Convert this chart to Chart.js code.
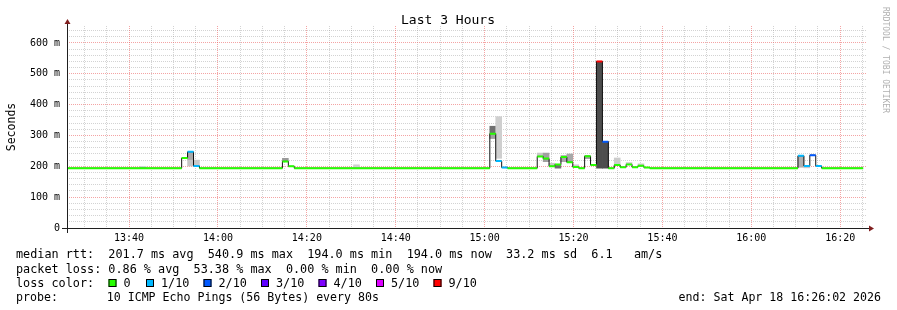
<!DOCTYPE html>
<html><head><meta charset="utf-8">
<script src="https://cdn.jsdelivr.net/npm/chart.js@4/dist/chart.umd.min.js"></script>
<style>html,body{margin:0;padding:0;background:#fff}#wrap{width:897px;height:310px;position:relative}</style>
</head><body><div id="wrap"><canvas id="c" width="897" height="310"></canvas></div>
<script>
// ---------- data ----------
const chartTitle = "Last 3 Hours";
const yAxisTitle = "Seconds";
const startTime = "13:26:02";
const endTime = "16:26:02";
const dataEnd = "16:25:10";
const stepSeconds = 80;
const yMax = 655;
const yTickValues = [0, 100, 200, 300, 400, 500, 600];
const xTickLabels = ["13:40", "14:00", "14:20", "14:40", "15:00", "15:20", "15:40", "16:00", "16:20"];

const lossLabels = ["0", "1/10", "2/10", "3/10", "4/10", "5/10", "9/10"];
const lossColors = ["#26ff00", "#00b8ff", "#0059ff", "#5e00ff", "#7e00ff", "#dd00ff", "#ff0000"];

// median rtt (ms) as runs: value holds from runStart until next run
const runStart = ["13:26:02", "13:51:50", "13:53:10", "13:54:30", "13:55:50",
  "14:14:30", "14:15:50", "14:17:10",
  "15:01:10", "15:02:30", "15:03:50", "15:05:10",
  "15:11:50", "15:13:10", "15:14:30", "15:15:50", "15:17:10", "15:18:30", "15:19:50", "15:21:10",
  "15:22:30", "15:23:50", "15:25:10", "15:26:30", "15:27:50", "15:29:10", "15:30:30", "15:31:50",
  "15:33:10", "15:34:30", "15:35:50", "15:37:10",
  "16:10:30", "16:11:50", "16:13:10", "16:14:30", "16:15:50"];
const runMedian = [194, 227, 247, 201, 194,
  216, 200, 194,
  306, 217, 196, 194,
  232, 225, 200, 206, 230, 213, 198, 194,
  233, 204, 540, 280, 194, 204, 197, 206,
  197, 202, 196, 194,
  234, 201, 236, 201, 194];
const runLoss = ["0", "0", "1/10", "1/10", "0",
  "0", "0", "0",
  "0", "1/10", "1/10", "0",
  "0", "0", "0", "0", "0", "0", "0", "0",
  "0", "0", "9/10", "2/10", "0", "0", "0", "0",
  "0", "0", "0", "0",
  "1/10", "1/10", "2/10", "1/10", "0"];

// smoke (spread of the pings) per 80 s step
const smokeStep = ["13:42:30", "13:53:10", "13:53:10", "13:54:30", "14:14:30", "14:30:30",
  "15:01:10", "15:01:10", "15:02:30", "15:11:50", "15:13:10", "15:14:30", "15:15:50", "15:17:10",
  "15:18:30", "15:19:50", "15:22:30", "15:25:10", "15:26:30", "15:29:10", "15:31:50", "15:34:30",
  "16:10:30", "16:11:50"];
const smokeLow = [195, 201, 222, 201, 216, 198,
  290, 308, 226, 232, 215, 200, 194, 215,
  213, 198, 225, 194, 194, 204, 206, 202,
  197, 195];
const smokeHigh = [200, 222, 245, 220, 226, 205,
  306, 330, 361, 243, 243, 210, 206, 235,
  240, 205, 233, 540, 280, 227, 212, 208,
  234, 200];
const smokeShade = ["#d2d2d2", "#c4c4c4", "#a8a8a8", "#c8c8c8", "#9a9a9a", "#d0d0d0",
  "#a0a0a0", "#707070", "#cfcfcf", "#c8c8c8", "#a0a0a0", "#c8c8c8", "#6e6e6e", "#a8a8a8",
  "#a8a8a8", "#cccccc", "#a0a0a0", "#4d4d4d", "#4d4d4d", "#cccccc", "#c8c8c8", "#c8c8c8",
  "#b0b0b0", "#c8c8c8"];

const rttLine = "median rtt:  201.7 ms avg  540.9 ms max  194.0 ms min  194.0 ms now  33.2 ms sd  6.1   am/s";
const lossLine = "packet loss: 0.86 % avg  53.38 % max  0.00 % min  0.00 % now";
const lossColorLabel = "loss color:";
const probeLine = "probe:       10 ICMP Echo Pings (56 Bytes) every 80s";
const endLine = "end: Sat Apr 18 16:26:02 2026";
const watermark = "RRDTOOL / TOBI OETIKER";

// ---------- helpers ----------
function toSec(s) { const p = s.split(':').map(Number); return p[0] * 3600 + p[1] * 60 + (p[2] || 0); }
function clock(v) { const h = Math.floor(v / 3600), m = Math.floor((v % 3600) / 60); return String(h).padStart(2, '0') + ':' + String(m).padStart(2, '0'); }
const tStart = toSec(startTime), tEnd = toSec(endTime), tDataEnd = toSec(dataEnd);
const runSec = runStart.map(toSec);
const MONO = "'DejaVu Sans Mono', monospace";

const medianPts = runSec.map((t, i) => ({ x: t, y: runMedian[i] }));
medianPts.push({ x: tDataEnd, y: runMedian[runMedian.length - 1] });

const lossSets = lossLabels.map((lab, ci) => {
  const pts = [];
  runSec.forEach((t, i) => {
    if (runLoss[i] === lab) {
      const e = i + 1 < runSec.length ? runSec[i + 1] : tDataEnd;
      pts.push({ x: t, y: runMedian[i] }, { x: e, y: runMedian[i] }, { x: e, y: null });
    }
  });
  return { type: 'line', data: pts, borderColor: lossColors[ci], borderWidth: 2, pointRadius: 0,
    spanGaps: false, order: 0, borderCapStyle: 'butt' };
});

const smokeSet = {
  type: 'bar',
  data: smokeStep.map((s, i) => ({ x: toSec(s) + stepSeconds / 2, y: [smokeLow[i], smokeHigh[i]] })),
  backgroundColor: smokeShade, borderWidth: 0, barPercentage: 1, categoryPercentage: 1, grouped: false, order: 2
};
const medianSet = { type: 'line', data: medianPts, borderColor: '#111', borderWidth: 1, pointRadius: 0, stepped: true, order: 1 };

const deco = {
  id: 'deco',
  afterDatasetsDraw(chart) {
    const ctx = chart.ctx, a = chart.chartArea;
    ctx.save();
    // axes
    ctx.strokeStyle = '#1f1f1f'; ctx.lineWidth = 1;
    ctx.beginPath();
    ctx.moveTo(a.left - 5, a.bottom + 0.5); ctx.lineTo(a.right + 3, a.bottom + 0.5);
    ctx.moveTo(a.left + 0.5, a.bottom + 5); ctx.lineTo(a.left + 0.5, a.top - 3);
    ctx.stroke();
    ctx.fillStyle = '#801f1f';
    ctx.beginPath(); ctx.moveTo(a.left - 2.5, a.top - 2); ctx.lineTo(a.left + 3.5, a.top - 2); ctx.lineTo(a.left + 0.5, a.top - 7); ctx.closePath(); ctx.fill();
    ctx.beginPath(); ctx.moveTo(a.right + 2, a.bottom - 2.5); ctx.lineTo(a.right + 2, a.bottom + 3.5); ctx.lineTo(a.right + 7, a.bottom + 0.5); ctx.closePath(); ctx.fill();
    // title
    ctx.fillStyle = '#000'; ctx.textAlign = 'center'; ctx.textBaseline = 'alphabetic';
    ctx.font = "13px " + MONO; ctx.fillText(chartTitle, 448, 24);
    // y title
    ctx.save(); ctx.translate(15, 127); ctx.rotate(-Math.PI / 2);
    ctx.font = "11.5px " + MONO; ctx.fillText(yAxisTitle, 0, 0); ctx.restore();
    // watermark
    ctx.save(); ctx.translate(883, 60); ctx.rotate(Math.PI / 2); ctx.fillStyle = '#b0b0b0';
    ctx.font = "8px " + MONO; ctx.textAlign = 'center'; ctx.fillText(watermark, 0, 0); ctx.restore();
    // legend
    ctx.textAlign = 'left'; ctx.font = "11.8px " + MONO; ctx.fillStyle = '#000';
    ctx.fillText(rttLine, 16, 258);
    ctx.fillText(lossLine, 16, 272.5);
    ctx.fillText(lossColorLabel, 16, 287);
    ctx.font = "11.6px " + MONO;
    ctx.fillText(probeLine, 16, 301);
    ctx.textAlign = 'right'; ctx.fillText(endLine, 881, 301);
    ctx.font = "11.8px " + MONO;
    ctx.textAlign = 'left';
    const boxX = [108.5, 146, 203.5, 261, 318.5, 376, 433.5];
    lossLabels.forEach((lab, i) => {
      const x = boxX[i];
      ctx.fillStyle = lossColors[i]; ctx.fillRect(x, 279, 8, 8);
      ctx.strokeStyle = '#000'; ctx.strokeRect(x + 0.5, 279.5, 7, 7);
      ctx.fillStyle = '#000'; ctx.fillText(lab, x + 15, 287);
    });
    ctx.restore();
  }
};

function xMajorTicks() { return xTickLabels.map(l => ({ value: toSec(l + ':00') })); }
function xMinorTicks() { const t = []; for (let v = Math.ceil(tStart / 300) * 300; v <= tEnd; v += 300) if (v % 1200) t.push({ value: v }); return t; }
function yMinorTicks() { const t = []; for (let v = 20; v <= yMax; v += 20) if (v % 100) t.push({ value: v }); return t; }

const MAJOR = 'rgba(235,90,90,0.55)';
const MINOR = 'rgba(150,150,150,0.42)';

new Chart(document.getElementById('c'), {
  data: { datasets: [...lossSets, medianSet, smokeSet] },
  options: {
    responsive: false, animation: false, devicePixelRatio: 1,
    layout: { padding: { top: 26, right: 30, left: 0, bottom: 62 } },
    plugins: { legend: { display: false }, tooltip: { enabled: false }, title: { display: false } },
    scales: {
      xMinor: {
        type: 'linear', min: tStart, max: tEnd, position: 'bottom', offset: false,
        afterBuildTicks: s => { s.ticks = xMinorTicks(); },
        afterFit: s => { s.height = 0; },
        ticks: { display: false },
        grid: { color: MINOR, drawTicks: false, offset: false },
        border: { display: false, dash: [1, 1] }
      },
      yMinor: {
        type: 'linear', min: 0, max: yMax, position: 'left',
        afterBuildTicks: s => { s.ticks = yMinorTicks(); },
        afterFit: s => { s.width = 0; },
        ticks: { display: false },
        grid: { color: MINOR, drawTicks: false },
        border: { display: false, dash: [1, 1] }
      },
      x: {
        type: 'linear', min: tStart, max: tEnd, position: 'bottom', offset: false,
        afterBuildTicks: s => { s.ticks = xMajorTicks(); },
        afterFit: s => { s.height = 20; },
        ticks: { callback: v => clock(v), font: { family: MONO, size: 10 }, color: '#000', padding: 4, maxRotation: 0, autoSkip: false },
        grid: { color: MAJOR, drawTicks: false, offset: false },
        border: { display: false, dash: [1, 1] }
      },
      y: {
        type: 'linear', min: 0, max: yMax, position: 'left',
        afterBuildTicks: s => { s.ticks = yTickValues.map(v => ({ value: v })); },
        afterFit: s => { s.width = 67; },
        ticks: { callback: v => v === 0 ? '0' : v + ' m', font: { family: MONO, size: 10 }, color: '#000', padding: 7 },
        grid: { color: MAJOR, drawTicks: false },
        border: { display: false, dash: [1, 1] }
      }
    }
  },
  plugins: [deco]
});
</script>
</body></html>
